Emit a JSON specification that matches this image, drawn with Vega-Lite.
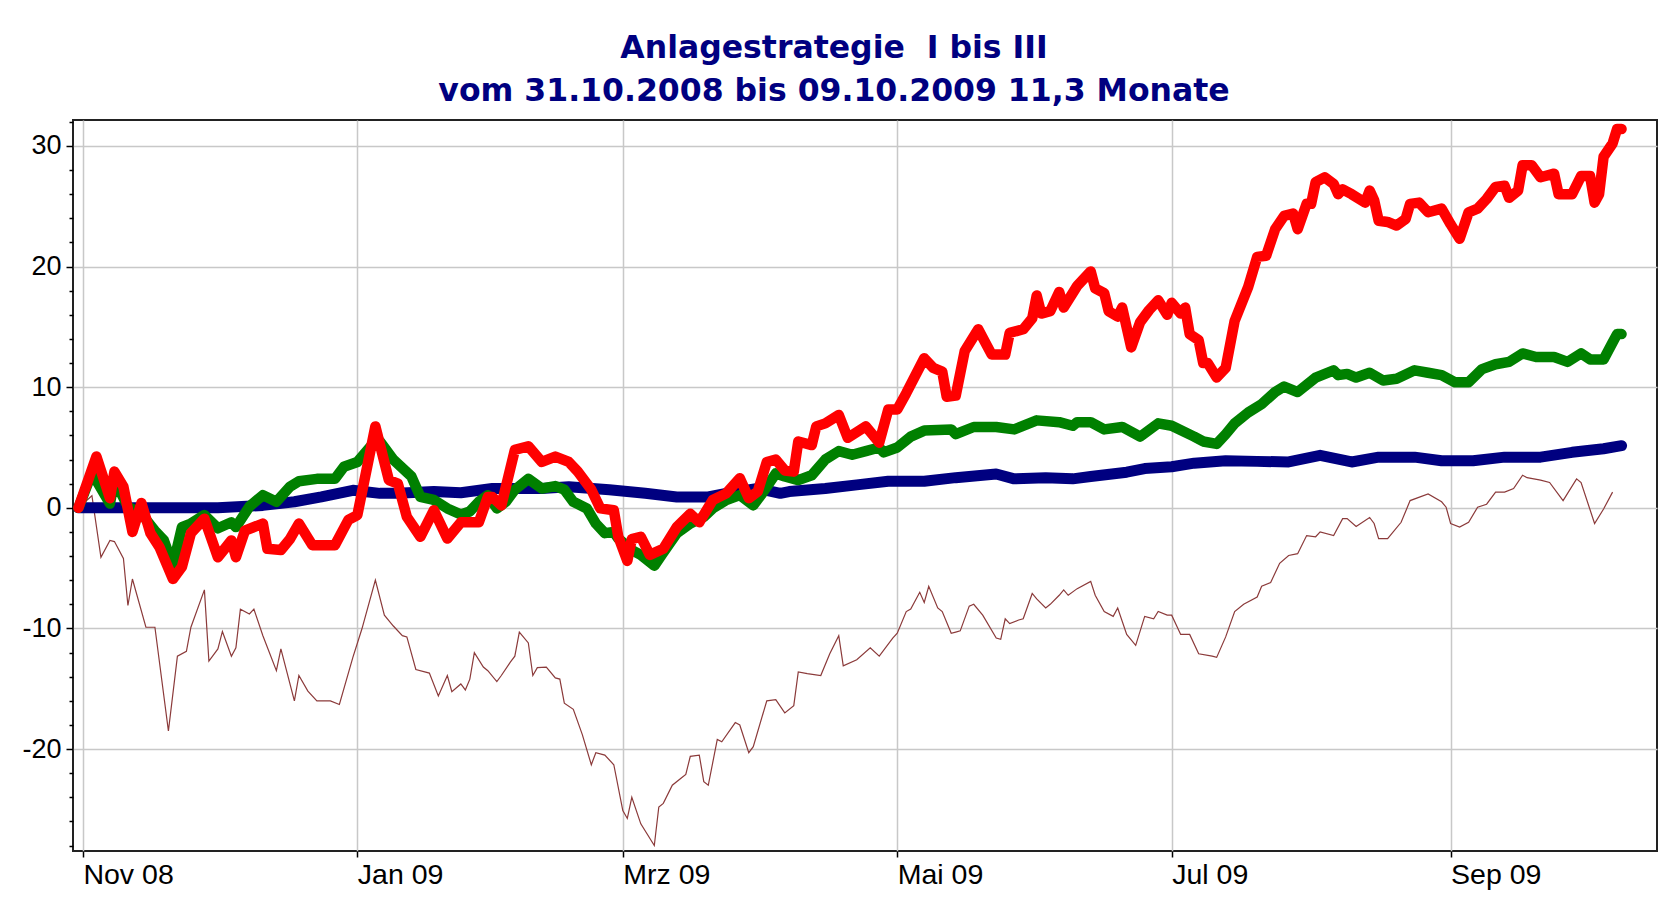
{
  "$schema": "https://vega.github.io/schema/vega-lite/v6.json",
  "autosize": "none",
  "width": 1584,
  "height": 731,
  "padding": {"left": 73, "top": 120, "right": 1, "bottom": 50},
  "background": "white",
  "title": {
    "text": ["Anlagestrategie \u00a0I bis III", "vom 31.10.2008 bis 09.10.2009 11,3 Monate"],
    "font": "DejaVu Sans",
    "fontWeight": "bold",
    "fontSize": 31.5,
    "lineHeight": 43.6,
    "color": "#000080",
    "anchor": "middle",
    "dx": -31,
    "offset": 12
  },
  "config": {
    "view": {"stroke": "#222222", "strokeWidth": 2},
    "axis": {"domain": false, "labelFont": "Liberation Sans", "labelColor": "#000000", "tickColor": "#000000", "tickWidth": 1.5, "gridColor": "#c8c8c8", "gridWidth": 1.5, "title": null}
  },
  "datasets": {
    "red": [
      {"date":"2008-10-31","value":0},{"date":"2008-11-04","value":4.25},{"date":"2008-11-07","value":0.8},{"date":"2008-11-08","value":3.0},{"date":"2008-11-10","value":1.75},{"date":"2008-11-12","value":-2.0},{"date":"2008-11-14","value":0.4},{"date":"2008-11-16","value":-2.1},{"date":"2008-11-18","value":-3.25},{"date":"2008-11-21","value":-5.9},{"date":"2008-11-23","value":-4.9},{"date":"2008-11-25","value":-2.1},{"date":"2008-11-28","value":-0.9},
      {"date":"2008-12-01","value":-4.1},{"date":"2008-12-04","value":-2.7},{"date":"2008-12-05","value":-4.1},{"date":"2008-12-07","value":-1.9},{"date":"2008-12-11","value":-1.3},{"date":"2008-12-12","value":-3.4},{"date":"2008-12-15","value":-3.5},{"date":"2008-12-17","value":-2.6},{"date":"2008-12-19","value":-1.3},{"date":"2008-12-22","value":-3.1},{"date":"2008-12-27","value":-3.1},{"date":"2008-12-30","value":-1.0},
      {"date":"2009-01-01","value":-0.6},{"date":"2009-01-05","value":6.75},{"date":"2009-01-08","value":2.3},{"date":"2009-01-10","value":2.0},{"date":"2009-01-12","value":-0.75},{"date":"2009-01-15","value":-2.4},{"date":"2009-01-18","value":-0.2},{"date":"2009-01-21","value":-2.55},{"date":"2009-01-24","value":-1.2},{"date":"2009-01-28","value":-1.2},{"date":"2009-01-30","value":0.9},{"date":"2009-01-31","value":0.9},
      {"date":"2009-02-02","value":0.2},{"date":"2009-02-05","value":4.8},{"date":"2009-02-08","value":5.1},{"date":"2009-02-11","value":3.8},{"date":"2009-02-14","value":4.25},{"date":"2009-02-17","value":3.8},{"date":"2009-02-19","value":3.0},{"date":"2009-02-22","value":1.5},{"date":"2009-02-24","value":-0.05},{"date":"2009-02-27","value":-0.2},{"date":"2009-02-28","value":-2.4},
      {"date":"2009-03-02","value":-4.4},{"date":"2009-03-03","value":-2.6},{"date":"2009-03-05","value":-2.4},{"date":"2009-03-07","value":-3.9},{"date":"2009-03-10","value":-3.4},{"date":"2009-03-13","value":-1.6},{"date":"2009-03-16","value":-0.5},{"date":"2009-03-18","value":-1.2},{"date":"2009-03-21","value":0.65},{"date":"2009-03-24","value":1.2},{"date":"2009-03-27","value":2.45},{"date":"2009-03-29","value":0.8},{"date":"2009-03-31","value":1.35},
      {"date":"2009-04-02","value":3.8},{"date":"2009-04-04","value":4.0},{"date":"2009-04-06","value":3.1},{"date":"2009-04-08","value":3.0},{"date":"2009-04-09","value":5.5},{"date":"2009-04-12","value":5.2},{"date":"2009-04-13","value":6.75},{"date":"2009-04-15","value":7.0},{"date":"2009-04-18","value":7.7},{"date":"2009-04-20","value":5.8},{"date":"2009-04-24","value":6.75},{"date":"2009-04-27","value":5.4},{"date":"2009-04-29","value":8.15},
      {"date":"2009-05-01","value":8.15},{"date":"2009-05-03","value":9.5},{"date":"2009-05-07","value":12.4},{"date":"2009-05-09","value":11.6},{"date":"2009-05-11","value":11.3},{"date":"2009-05-12","value":9.2},{"date":"2009-05-14","value":9.3},{"date":"2009-05-16","value":13.0},{"date":"2009-05-19","value":14.8},{"date":"2009-05-22","value":12.7},{"date":"2009-05-25","value":12.7},{"date":"2009-05-26","value":14.5},{"date":"2009-05-29","value":14.8},{"date":"2009-05-31","value":15.7},
      {"date":"2009-06-01","value":17.6},{"date":"2009-06-02","value":16.1},{"date":"2009-06-04","value":16.3},{"date":"2009-06-06","value":17.9},{"date":"2009-06-07","value":16.6},{"date":"2009-06-10","value":18.4},{"date":"2009-06-13","value":19.6},{"date":"2009-06-14","value":18.2},{"date":"2009-06-16","value":17.8},{"date":"2009-06-17","value":16.3},{"date":"2009-06-19","value":15.85},{"date":"2009-06-20","value":16.6},{"date":"2009-06-22","value":13.3},{"date":"2009-06-24","value":15.4},{"date":"2009-06-26","value":16.4},{"date":"2009-06-28","value":17.2},{"date":"2009-06-30","value":16.0},
      {"date":"2009-07-01","value":17.0},{"date":"2009-07-03","value":16.1},{"date":"2009-07-04","value":16.6},{"date":"2009-07-05","value":14.4},{"date":"2009-07-07","value":13.9},{"date":"2009-07-08","value":12.0},{"date":"2009-07-09","value":12.0},{"date":"2009-07-11","value":10.8},{"date":"2009-07-13","value":11.6},{"date":"2009-07-15","value":15.5},{"date":"2009-07-18","value":18.3},{"date":"2009-07-20","value":20.8},{"date":"2009-07-22","value":20.9},{"date":"2009-07-24","value":23.1},{"date":"2009-07-26","value":24.2},{"date":"2009-07-28","value":24.4},{"date":"2009-07-29","value":23.1},{"date":"2009-07-31","value":25.2},
      {"date":"2009-08-01","value":25.2},{"date":"2009-08-02","value":27.0},{"date":"2009-08-04","value":27.4},{"date":"2009-08-06","value":26.85},{"date":"2009-08-07","value":26.0},{"date":"2009-08-08","value":26.4},{"date":"2009-08-10","value":26.0},{"date":"2009-08-13","value":25.3},{"date":"2009-08-14","value":26.3},{"date":"2009-08-15","value":25.5},{"date":"2009-08-16","value":23.8},{"date":"2009-08-18","value":23.7},{"date":"2009-08-20","value":23.4},{"date":"2009-08-22","value":23.95},{"date":"2009-08-23","value":25.2},{"date":"2009-08-25","value":25.3},{"date":"2009-08-27","value":24.5},{"date":"2009-08-30","value":24.8},
      {"date":"2009-09-01","value":23.5},{"date":"2009-09-03","value":22.3},{"date":"2009-09-05","value":24.5},{"date":"2009-09-07","value":24.8},{"date":"2009-09-09","value":25.6},{"date":"2009-09-11","value":26.6},{"date":"2009-09-13","value":26.7},{"date":"2009-09-14","value":25.7},{"date":"2009-09-16","value":26.3},{"date":"2009-09-17","value":28.4},{"date":"2009-09-19","value":28.4},{"date":"2009-09-21","value":27.4},{"date":"2009-09-24","value":27.7},{"date":"2009-09-25","value":26.0},{"date":"2009-09-28","value":26.0},{"date":"2009-09-30","value":27.5},
      {"date":"2009-10-02","value":27.5},{"date":"2009-10-03","value":25.3},{"date":"2009-10-04","value":26.0},{"date":"2009-10-05","value":29.1},{"date":"2009-10-07","value":30.2},{"date":"2009-10-08","value":31.4},{"date":"2009-10-09","value":31.4}
    ],
    "green": [
      {"date":"2008-10-31","value":0},{"date":"2008-11-03","value":2.9},{"date":"2008-11-07","value":0.35},{"date":"2008-11-08","value":2.3},{"date":"2008-11-11","value":0.1},{"date":"2008-11-14","value":-0.5},{"date":"2008-11-17","value":-1.9},{"date":"2008-11-19","value":-2.7},{"date":"2008-11-21","value":-4.8},{"date":"2008-11-23","value":-1.6},{"date":"2008-11-25","value":-1.3},{"date":"2008-11-28","value":-0.6},
      {"date":"2008-12-01","value":-1.7},{"date":"2008-12-04","value":-1.2},{"date":"2008-12-05","value":-1.6},{"date":"2008-12-08","value":0.1},{"date":"2008-12-11","value":1.05},{"date":"2008-12-14","value":0.5},{"date":"2008-12-17","value":1.75},{"date":"2008-12-19","value":2.2},{"date":"2008-12-23","value":2.4},{"date":"2008-12-27","value":2.4},{"date":"2008-12-29","value":3.4},
      {"date":"2009-01-01","value":3.8},{"date":"2009-01-04","value":5.1},{"date":"2009-01-06","value":5.5},{"date":"2009-01-09","value":4.0},{"date":"2009-01-13","value":2.6},{"date":"2009-01-15","value":0.9},{"date":"2009-01-18","value":0.65},{"date":"2009-01-21","value":-0.05},{"date":"2009-01-24","value":-0.55},{"date":"2009-01-26","value":-0.3},{"date":"2009-01-28","value":0.5},{"date":"2009-01-30","value":1.05},
      {"date":"2009-02-01","value":-0.05},{"date":"2009-02-03","value":0.5},{"date":"2009-02-05","value":1.5},{"date":"2009-02-08","value":2.4},{"date":"2009-02-11","value":1.6},{"date":"2009-02-14","value":1.8},{"date":"2009-02-16","value":1.5},{"date":"2009-02-18","value":0.5},{"date":"2009-02-21","value":-0.05},{"date":"2009-02-23","value":-1.3},{"date":"2009-02-25","value":-2.1},{"date":"2009-02-27","value":-2.0},{"date":"2009-02-28","value":-2.55},
      {"date":"2009-03-03","value":-3.5},{"date":"2009-03-05","value":-3.9},{"date":"2009-03-08","value":-4.8},{"date":"2009-03-10","value":-3.7},{"date":"2009-03-13","value":-2.1},{"date":"2009-03-16","value":-1.3},{"date":"2009-03-19","value":-0.75},{"date":"2009-03-21","value":-0.05},{"date":"2009-03-24","value":0.65},{"date":"2009-03-27","value":1.05},{"date":"2009-03-30","value":0.2},
      {"date":"2009-04-01","value":1.2},{"date":"2009-04-04","value":2.85},{"date":"2009-04-06","value":2.6},{"date":"2009-04-09","value":2.3},{"date":"2009-04-12","value":2.7},{"date":"2009-04-15","value":4.0},{"date":"2009-04-18","value":4.7},{"date":"2009-04-21","value":4.4},{"date":"2009-04-24","value":4.7},{"date":"2009-04-27","value":5.0},{"date":"2009-04-28","value":4.6},
      {"date":"2009-05-01","value":5.0},{"date":"2009-05-04","value":5.9},{"date":"2009-05-07","value":6.4},{"date":"2009-05-13","value":6.5},{"date":"2009-05-14","value":6.1},{"date":"2009-05-18","value":6.7},{"date":"2009-05-23","value":6.7},{"date":"2009-05-27","value":6.5},
      {"date":"2009-06-01","value":7.25},{"date":"2009-06-06","value":7.1},{"date":"2009-06-09","value":6.8},{"date":"2009-06-10","value":7.1},{"date":"2009-06-13","value":7.1},{"date":"2009-06-16","value":6.5},{"date":"2009-06-20","value":6.7},{"date":"2009-06-24","value":5.9},{"date":"2009-06-28","value":7.0},
      {"date":"2009-07-01","value":6.8},{"date":"2009-07-06","value":5.9},{"date":"2009-07-08","value":5.5},{"date":"2009-07-11","value":5.3},{"date":"2009-07-13","value":6.1},{"date":"2009-07-15","value":7.0},{"date":"2009-07-18","value":7.9},{"date":"2009-07-21","value":8.6},{"date":"2009-07-24","value":9.6},{"date":"2009-07-26","value":10.05},{"date":"2009-07-29","value":9.6},
      {"date":"2009-08-02","value":10.8},{"date":"2009-08-06","value":11.4},{"date":"2009-08-07","value":11.0},{"date":"2009-08-09","value":11.1},{"date":"2009-08-11","value":10.8},{"date":"2009-08-14","value":11.2},{"date":"2009-08-17","value":10.55},{"date":"2009-08-20","value":10.7},{"date":"2009-08-24","value":11.4},{"date":"2009-08-27","value":11.2},{"date":"2009-08-30","value":11.0},
      {"date":"2009-09-02","value":10.4},{"date":"2009-09-05","value":10.4},{"date":"2009-09-08","value":11.5},{"date":"2009-09-11","value":11.9},{"date":"2009-09-14","value":12.1},{"date":"2009-09-17","value":12.8},{"date":"2009-09-20","value":12.5},{"date":"2009-09-24","value":12.5},{"date":"2009-09-27","value":12.1},{"date":"2009-09-30","value":12.8},
      {"date":"2009-10-02","value":12.3},{"date":"2009-10-05","value":12.3},{"date":"2009-10-07","value":13.7},{"date":"2009-10-08","value":14.4},{"date":"2009-10-09","value":14.4}
    ],
    "blue": [
      {"date":"2008-10-31","value":0},{"date":"2008-11-10","value":0.0},{"date":"2008-12-01","value":0.0},{"date":"2008-12-11","value":0.2},{"date":"2008-12-18","value":0.5},{"date":"2008-12-24","value":0.9},{"date":"2008-12-31","value":1.45},
      {"date":"2009-01-06","value":1.2},{"date":"2009-01-10","value":1.2},{"date":"2009-01-18","value":1.35},{"date":"2009-01-24","value":1.25},{"date":"2009-01-31","value":1.6},{"date":"2009-02-11","value":1.6},{"date":"2009-02-17","value":1.75},{"date":"2009-02-26","value":1.5},
      {"date":"2009-03-06","value":1.2},{"date":"2009-03-13","value":0.9},{"date":"2009-03-20","value":0.9},{"date":"2009-03-24","value":1.2},{"date":"2009-03-31","value":1.6},{"date":"2009-04-05","value":1.2},{"date":"2009-04-07","value":1.35},{"date":"2009-04-15","value":1.6},{"date":"2009-04-22","value":1.9},{"date":"2009-04-29","value":2.2},
      {"date":"2009-05-07","value":2.2},{"date":"2009-05-14","value":2.5},{"date":"2009-05-23","value":2.8},{"date":"2009-05-27","value":2.4},{"date":"2009-06-03","value":2.5},{"date":"2009-06-09","value":2.4},{"date":"2009-06-13","value":2.6},{"date":"2009-06-21","value":2.95},{"date":"2009-06-25","value":3.25},
      {"date":"2009-07-01","value":3.4},{"date":"2009-07-06","value":3.7},{"date":"2009-07-13","value":3.9},{"date":"2009-07-20","value":3.85},{"date":"2009-07-27","value":3.8},{"date":"2009-08-03","value":4.35},{"date":"2009-08-10","value":3.8},{"date":"2009-08-16","value":4.2},{"date":"2009-08-24","value":4.2},{"date":"2009-08-30","value":3.9},
      {"date":"2009-09-06","value":3.9},{"date":"2009-09-13","value":4.2},{"date":"2009-09-21","value":4.2},{"date":"2009-09-28","value":4.6},{"date":"2009-10-05","value":4.9},{"date":"2009-10-09","value":5.15}
    ],
    "brown": [
      {"date":"2008-10-31","value":0},{"date":"2008-11-03","value":1.0},{"date":"2008-11-05","value":-4.1},{"date":"2008-11-07","value":-2.7},{"date":"2008-11-08","value":-2.8},{"date":"2008-11-10","value":-4.2},{"date":"2008-11-11","value":-8.1},{"date":"2008-11-12","value":-5.9},{"date":"2008-11-15","value":-9.9},{"date":"2008-11-17","value":-9.9},{"date":"2008-11-20","value":-18.5},{"date":"2008-11-22","value":-12.3},{"date":"2008-11-24","value":-11.9},{"date":"2008-11-25","value":-9.9},{"date":"2008-11-28","value":-6.8},{"date":"2008-11-29","value":-12.7},
      {"date":"2008-12-01","value":-11.7},{"date":"2008-12-02","value":-10.25},{"date":"2008-12-04","value":-12.3},{"date":"2008-12-05","value":-11.6},{"date":"2008-12-06","value":-8.4},{"date":"2008-12-08","value":-8.8},{"date":"2008-12-09","value":-8.4},{"date":"2008-12-11","value":-10.6},{"date":"2008-12-14","value":-13.5},{"date":"2008-12-15","value":-11.7},{"date":"2008-12-18","value":-16.0},{"date":"2008-12-19","value":-13.9},{"date":"2008-12-21","value":-15.2},{"date":"2008-12-23","value":-16.0},{"date":"2008-12-26","value":-16.0},{"date":"2008-12-28","value":-16.3},{"date":"2008-12-31","value":-12.4},
      {"date":"2009-01-02","value":-10.05},{"date":"2009-01-05","value":-6.0},{"date":"2009-01-07","value":-8.9},{"date":"2009-01-09","value":-9.8},{"date":"2009-01-11","value":-10.6},{"date":"2009-01-12","value":-10.7},{"date":"2009-01-14","value":-13.4},{"date":"2009-01-17","value":-13.7},{"date":"2009-01-19","value":-15.6},{"date":"2009-01-21","value":-13.9},{"date":"2009-01-22","value":-15.25},{"date":"2009-01-24","value":-14.6},{"date":"2009-01-25","value":-15.1},{"date":"2009-01-26","value":-14.2},{"date":"2009-01-27","value":-12.0},{"date":"2009-01-29","value":-13.2},{"date":"2009-01-30","value":-13.5},
      {"date":"2009-02-01","value":-14.4},{"date":"2009-02-02","value":-13.9},{"date":"2009-02-04","value":-12.8},{"date":"2009-02-05","value":-12.3},{"date":"2009-02-06","value":-10.3},{"date":"2009-02-08","value":-11.2},{"date":"2009-02-09","value":-13.9},{"date":"2009-02-10","value":-13.25},{"date":"2009-02-12","value":-13.2},{"date":"2009-02-14","value":-14.1},{"date":"2009-02-15","value":-14.2},{"date":"2009-02-16","value":-16.2},{"date":"2009-02-18","value":-16.7},{"date":"2009-02-20","value":-18.8},{"date":"2009-02-22","value":-21.3},{"date":"2009-02-23","value":-20.3},{"date":"2009-02-25","value":-20.5},{"date":"2009-02-27","value":-21.3},
      {"date":"2009-03-01","value":-25.1},{"date":"2009-03-02","value":-25.75},{"date":"2009-03-03","value":-24.0},{"date":"2009-03-05","value":-26.2},{"date":"2009-03-08","value":-28.0},{"date":"2009-03-09","value":-24.8},{"date":"2009-03-10","value":-24.5},{"date":"2009-03-12","value":-23.0},{"date":"2009-03-14","value":-22.4},{"date":"2009-03-15","value":-22.1},{"date":"2009-03-16","value":-20.6},{"date":"2009-03-18","value":-20.5},{"date":"2009-03-19","value":-22.7},{"date":"2009-03-20","value":-23.0},{"date":"2009-03-22","value":-19.2},{"date":"2009-03-23","value":-19.4},{"date":"2009-03-26","value":-17.8},{"date":"2009-03-27","value":-18.0},{"date":"2009-03-29","value":-20.3},{"date":"2009-03-30","value":-19.8},
      {"date":"2009-04-02","value":-16.0},{"date":"2009-04-04","value":-15.9},{"date":"2009-04-06","value":-17.0},{"date":"2009-04-08","value":-16.4},{"date":"2009-04-09","value":-13.6},{"date":"2009-04-11","value":-13.75},{"date":"2009-04-14","value":-13.9},{"date":"2009-04-16","value":-12.1},{"date":"2009-04-18","value":-10.6},{"date":"2009-04-19","value":-13.1},{"date":"2009-04-22","value":-12.6},{"date":"2009-04-25","value":-11.6},{"date":"2009-04-27","value":-12.3},{"date":"2009-04-30","value":-10.8},
      {"date":"2009-05-01","value":-10.4},{"date":"2009-05-03","value":-8.6},{"date":"2009-05-04","value":-8.4},{"date":"2009-05-06","value":-7.0},{"date":"2009-05-07","value":-7.85},{"date":"2009-05-08","value":-6.5},{"date":"2009-05-10","value":-8.3},{"date":"2009-05-11","value":-8.6},{"date":"2009-05-13","value":-10.4},{"date":"2009-05-14","value":-10.3},{"date":"2009-05-15","value":-10.2},{"date":"2009-05-17","value":-8.15},{"date":"2009-05-18","value":-8.0},{"date":"2009-05-20","value":-8.9},{"date":"2009-05-23","value":-10.8},{"date":"2009-05-24","value":-10.9},{"date":"2009-05-25","value":-9.2},{"date":"2009-05-26","value":-9.6},{"date":"2009-05-28","value":-9.3},{"date":"2009-05-29","value":-9.2},{"date":"2009-05-31","value":-7.1},
      {"date":"2009-06-01","value":-7.55},{"date":"2009-06-03","value":-8.3},{"date":"2009-06-04","value":-8.0},{"date":"2009-06-06","value":-7.25},{"date":"2009-06-07","value":-6.8},{"date":"2009-06-08","value":-7.25},{"date":"2009-06-10","value":-6.7},{"date":"2009-06-13","value":-6.1},{"date":"2009-06-14","value":-7.25},{"date":"2009-06-16","value":-8.6},{"date":"2009-06-18","value":-9.0},{"date":"2009-06-19","value":-8.3},{"date":"2009-06-21","value":-10.5},{"date":"2009-06-23","value":-11.4},{"date":"2009-06-25","value":-9.0},{"date":"2009-06-27","value":-9.2},{"date":"2009-06-28","value":-8.6},{"date":"2009-06-30","value":-8.9},
      {"date":"2009-07-01","value":-8.9},{"date":"2009-07-03","value":-10.5},{"date":"2009-07-05","value":-10.5},{"date":"2009-07-07","value":-12.1},{"date":"2009-07-10","value":-12.3},{"date":"2009-07-11","value":-12.4},{"date":"2009-07-13","value":-10.7},{"date":"2009-07-15","value":-8.6},{"date":"2009-07-17","value":-8.0},{"date":"2009-07-20","value":-7.4},{"date":"2009-07-21","value":-6.5},{"date":"2009-07-23","value":-6.2},{"date":"2009-07-25","value":-4.6},{"date":"2009-07-27","value":-3.95},{"date":"2009-07-29","value":-3.8},{"date":"2009-07-31","value":-2.3},
      {"date":"2009-08-02","value":-2.4},{"date":"2009-08-03","value":-2.0},{"date":"2009-08-06","value":-2.3},{"date":"2009-08-08","value":-0.9},{"date":"2009-08-09","value":-0.9},{"date":"2009-08-11","value":-1.55},{"date":"2009-08-14","value":-0.8},{"date":"2009-08-15","value":-1.3},{"date":"2009-08-16","value":-2.55},{"date":"2009-08-18","value":-2.55},{"date":"2009-08-21","value":-1.2},{"date":"2009-08-23","value":0.6},{"date":"2009-08-27","value":1.15},{"date":"2009-08-30","value":0.5},{"date":"2009-08-31","value":0.05},
      {"date":"2009-09-01","value":-1.3},{"date":"2009-09-03","value":-1.6},{"date":"2009-09-05","value":-1.2},{"date":"2009-09-07","value":0.05},{"date":"2009-09-09","value":0.3},{"date":"2009-09-11","value":1.3},{"date":"2009-09-13","value":1.3},{"date":"2009-09-15","value":1.6},{"date":"2009-09-17","value":2.7},{"date":"2009-09-18","value":2.5},{"date":"2009-09-21","value":2.3},{"date":"2009-09-23","value":2.1},{"date":"2009-09-26","value":0.6},{"date":"2009-09-29","value":2.4},{"date":"2009-09-30","value":2.1},
      {"date":"2009-10-03","value":-1.3},{"date":"2009-10-05","value":-0.1},{"date":"2009-10-07","value":1.3}
    ]
  },
  "encoding": {
    "x": {
      "field": "date",
      "type": "temporal",
      "scale": {"domain": [{"year": 2008, "month": 10, "date": 29, "hours": 19}, {"year": 2009, "month": 10, "date": 16, "hours": 21}]},
      "axis": {
        "values": [{"year": 2008, "month": 11, "date": 1}, {"year": 2009, "month": 1, "date": 1}, {"year": 2009, "month": 3, "date": 1}, {"year": 2009, "month": 5, "date": 1}, {"year": 2009, "month": 7, "date": 1}, {"year": 2009, "month": 9, "date": 1}],
        "labelExpr": "['Jan','Feb','Mrz','Apr','Mai','Jun','Jul','Aug','Sep','Okt','Nov','Dez'][month(datum.value)] + ' ' + timeFormat(datum.value, '%y')",
        "labelAlign": "left",
        "labelFontSize": 28.5,
        "labelPadding": 3,
        "labelFlush": false,
        "labelOverlap": false,
        "tickSize": 6
      }
    },
    "y": {
      "field": "value",
      "type": "quantitative",
      "scale": {"domain": [-28.45, 32.15], "nice": false, "zero": false},
      "axis": {
        "values": [-28, -26, -24, -22, -20, -18, -16, -14, -12, -10, -8, -6, -4, -2, 0, 2, 4, 6, 8, 10, 12, 14, 16, 18, 20, 22, 24, 26, 28, 30, 32],
        "labelExpr": "datum.value % 10 === 0 ? '' + datum.value : ''",
        "labelFontSize": 27,
        "labelPadding": 5,
        "tickSize": {"condition": {"test": "datum.value % 10 === 0", "value": 7}, "value": 4},
        "gridOpacity": {"condition": {"test": "datum.value % 10 === 0", "value": 1}, "value": 0}
      }
    }
  },
  "layer": [
    {"data": {"name": "brown"}, "mark": {"type": "line", "color": "#8b3a3a", "strokeWidth": 1.2}},
    {"data": {"name": "blue"}, "mark": {"type": "line", "color": "#000080", "strokeWidth": 11, "strokeCap": "round", "strokeJoin": "round"}},
    {"data": {"name": "green"}, "mark": {"type": "line", "color": "#008000", "strokeWidth": 10.5, "strokeCap": "round", "strokeJoin": "round"}},
    {"data": {"name": "red"}, "mark": {"type": "line", "color": "#ff0000", "strokeWidth": 10.5, "strokeCap": "round", "strokeJoin": "round"}}
  ]
}
